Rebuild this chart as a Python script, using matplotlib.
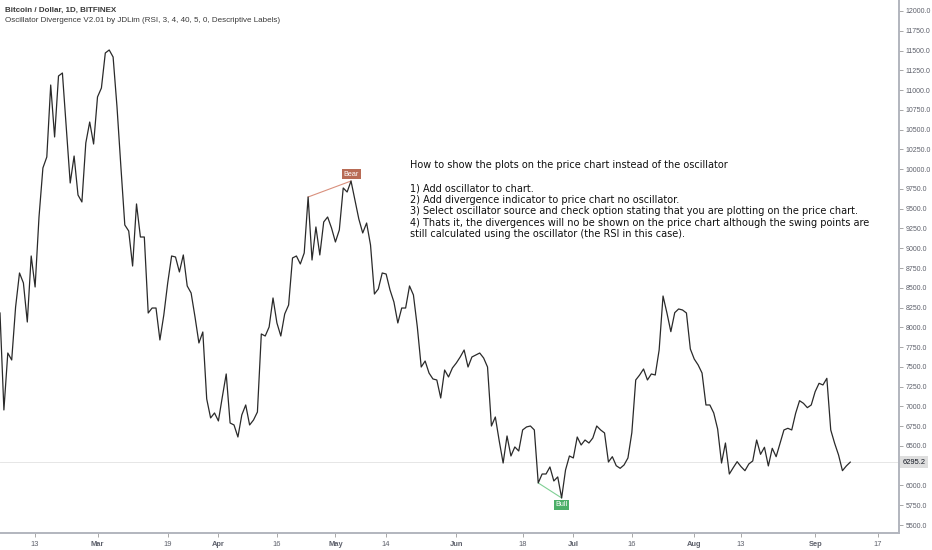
import numpy as np
import pandas as pd
import matplotlib
matplotlib.use("Agg")
import matplotlib.pyplot as plt
import matplotlib.transforms as mtransforms

# Clôtures journalières (BTC/USD, Bitfinex)
start_date = "2018-02-04"
close = [
    8181, 6955, 7675, 7587, 8257, 8687, 8561, 8067, 8902, 8510,
    9395, 10015, 10154, 11064, 10407, 11178, 11216, 10521, 9825, 10166,
    9673, 9585, 10331, 10596, 10318, 10913, 11026, 11469, 11507, 11418,
    10786, 10027, 9294, 9218, 8775, 9560, 9142, 9142, 8181, 8244,
    8244, 7840, 8156, 8561, 8902, 8889, 8700, 8915, 8523, 8434,
    8131, 7802, 7941, 7094, 6854, 6917, 6816, 7119, 7410, 6790,
    6765, 6613, 6892, 7018, 6765, 6828, 6929, 7916, 7890, 8004,
    8371, 8055, 7890, 8169, 8282, 8877, 8902, 8801, 8940, 9648,
    8851, 9269, 8915, 9332, 9395, 9256, 9079, 9231, 9762, 9711,
    9850, 9610, 9370, 9193, 9319, 9041, 8421, 8485, 8687, 8674,
    8472, 8320, 8055, 8244, 8244, 8523, 8409, 8004, 7498, 7574,
    7422, 7347, 7334, 7106, 7460, 7372, 7486, 7549, 7625, 7713,
    7498, 7625, 7650, 7675, 7612, 7498, 6752, 6866, 6563, 6284,
    6626, 6373, 6487, 6436, 6702, 6740, 6752, 6702, 6032, 6145,
    6145, 6234, 6057, 6108, 5842, 6196, 6373, 6348, 6613, 6512,
    6575, 6537, 6601, 6752, 6702, 6664, 6297, 6364, 6250, 6217,
    6259, 6348, 6668, 7334, 7397, 7473, 7334, 7410, 7397, 7713,
    8396, 8181, 7945, 8185, 8232, 8219, 8181, 7726, 7599, 7524,
    7422, 7018, 7018, 6917, 6714, 6284, 6537, 6145, 6225, 6301,
    6238, 6187, 6272, 6310, 6575, 6394, 6483, 6247, 6470, 6364,
    6533, 6702, 6723, 6702, 6913, 7072, 7039, 6984, 7018, 7186,
    7292, 7271, 7355, 6702, 6533, 6386, 6187, 6247, 6295.2,
]

# Divergences (indices des points pivots)
bear_idx = [79, 90]
bull_idx = [138, 144]

tick_dates = ["2018-02-13", "2018-03-01", "2018-03-19", "2018-04-01", "2018-04-16",
              "2018-05-01", "2018-05-14", "2018-06-01", "2018-06-18", "2018-07-01",
              "2018-07-16", "2018-08-01", "2018-08-13", "2018-09-01", "2018-09-17"]
tick_labels = ["13", "Mar", "19", "Apr", "16", "May", "14", "Jun", "18", "Jul",
               "16", "Aug", "13", "Sep", "17"]

y_ticks = np.arange(5500, 12001, 250)

title_1 = "Bitcoin / Dollar, 1D, BITFINEX"
title_2 = "Oscillator Divergence V2.01 by JDLim (RSI, 3, 4, 40, 5, 0, Descriptive Labels)"
note = ("How to show the plots on the price chart instead of the oscillator\n"
        "\n"
        "1) Add oscillator to chart.\n"
        "2) Add divergence indicator to price chart no oscillator.\n"
        "3) Select oscillator source and check option stating that you are plotting on the price chart.\n"
        "4) Thats it, the divergences will no be shown on the price chart although the swing points are\n"
        "still calculated using the oscillator (the RSI in this case).")

dates = pd.date_range(start_date, periods=len(close), freq="D")
close = np.array(close)

W, H = 932, 550
fig = plt.figure(figsize=(W / 100, H / 100), dpi=100)
ax = fig.add_axes([0, 1 - 533 / H, 899 / W, 533 / H])

ax.plot(dates, close, color="#2a2a2a", lw=0.9, zorder=3)

# ligne du dernier prix
last = close[-1]
ax.axhline(last, color="#e6e6e6", lw=0.7, zorder=1)

# divergences
ax.plot(dates[bear_idx], close[bear_idx], color="#d9907d", lw=0.8, zorder=2)
ax.plot(dates[bull_idx], close[bull_idx], color="#7fcf94", lw=0.8, zorder=2)
ax.annotate("Bear", (dates[bear_idx[1]], close[bear_idx[1]]), xytext=(0, 2.5),
            textcoords="offset points", ha="center", va="bottom", fontsize=5.2,
            color="white", family="Liberation Sans",
            bbox=dict(boxstyle="square,pad=0.25", fc="#b86b55", ec="none"), zorder=5)
ax.annotate("Bull", (dates[bull_idx[1]], close[bull_idx[1]]), xytext=(0, -2.5),
            textcoords="offset points", ha="center", va="top", fontsize=5.2,
            color="white", family="Liberation Sans",
            bbox=dict(boxstyle="square,pad=0.25", fc="#4caf68", ec="none"), zorder=5)

ax.set_xlim(dates[0], dates[0] + pd.Timedelta(days=230.5))
ax.set_ylim(5399, 12139)

ax.yaxis.tick_right()
ax.set_yticks(y_ticks)
# l'étiquette 6250.0 est masquée par celle du dernier prix
ax.set_yticklabels(["" if v == 6250 else f"{v:.1f}" for v in y_ticks])
ax.set_xticks(pd.to_datetime(tick_dates))
ax.set_xticklabels(tick_labels)
for lbl, txt in zip(ax.get_xticklabels(), tick_labels):
    if not txt.isdigit():
        lbl.set_fontweight("bold")

ax.tick_params(axis="y", length=3, width=0.6, color="#9a9a9a", labelsize=5.0,
               labelcolor="#5d606b", pad=1.5)
ax.tick_params(axis="x", length=3, width=0.6, color="#9a9a9a", labelsize=5.4,
               labelcolor="#5d606b", pad=3)
for lbl in ax.get_yticklabels() + ax.get_xticklabels():
    lbl.set_family("Liberation Sans")

for s in ["top", "left"]:
    ax.spines[s].set_visible(False)
for s in ["right", "bottom"]:
    ax.spines[s].set_color("#b2b5be")
    ax.spines[s].set_linewidth(1.4)

# étiquette du dernier prix
trans = mtransforms.blended_transform_factory(ax.transAxes, ax.transData)
ax.text(1.004, last, f"{last:.1f}", transform=trans, ha="left", va="center",
        fontsize=5.4, color="#131722", family="Liberation Sans", clip_on=False,
        bbox=dict(boxstyle="square,pad=0.3", fc="#dedede", ec="none"), zorder=6)

fig.text(5 / W, 1 - 10 / H, title_1, fontsize=5.8, fontweight="bold", color="#3a3a3a",
         va="center", ha="left", family="Liberation Sans")
fig.text(5 / W, 1 - 21 / H, title_2, fontsize=5.8, color="#3a3a3a",
         va="center", ha="left", family="Liberation Sans")
fig.text(410 / W, 1 - 160 / H, note, fontsize=7.0, color="#111111", va="top", ha="left",
         linespacing=1.19, family="DejaVu Sans")

fig.savefig("out.png", dpi=100)
